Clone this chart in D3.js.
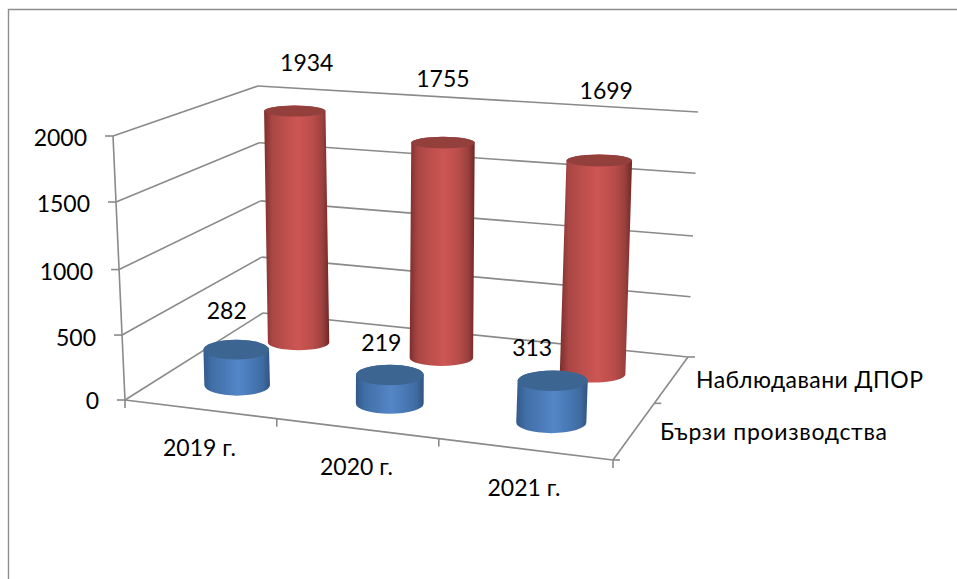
<!DOCTYPE html>
<html><head><meta charset="utf-8">
<script src="https://cdn.jsdelivr.net/npm/d3@7"></script>
<style>
html,body{margin:0;padding:0;background:#fff}
svg{display:block}
text{font-family:Lato,"Noto Sans","Open Sans",sans-serif;font-size:23px;fill:#000}
</style></head><body><div id="chart"></div>
<script>
const categories = ["2019 г.", "2020 г.", "2021 г."];
const seriesNames = ["Бързи производства", "Наблюдавани ДПОР"];
const fastCases = [282, 219, 313];
const observedCases = [1934, 1755, 1699];
const valueTicks = [0, 500, 1000, 1500, 2000];

const W = 957, H = 579;
const svg = d3.select("#chart").append("svg").attr("width", W).attr("height", H);

// 3D box corners on screen
const box = {
  floor: {fl:[125,400], fr:[613,460], bl:[263,313], br:[688,357]},
  ceil:  {fl:[113,136], fr:[627,175], bl:[258,86],  br:[698,112]}
};
const valueT = d3.scaleLinear().domain(valueTicks).range([0, 0.246, 0.494, 0.75, 1]);
const catU = d3.scaleOrdinal(categories, [0.159, 0.483, 0.826]);
const serV = d3.scaleOrdinal(seriesNames, [0.27, 0.75]);
const lerp = (a, b, t) => [a[0] + (b[0]-a[0])*t, a[1] + (b[1]-a[1])*t];
function plane(p, u, v) { return lerp(lerp(p.fl, p.fr, u), lerp(p.bl, p.br, u), v); }
function project(u, v, value) {
  return lerp(plane(box.floor, u, v), plane(box.ceil, u, v), valueT(value));
}
const line = d3.line();
const stroke = "#8a8a8a";
function seg(a, b, w) {
  svg.append("path").attr("d", line([a, b])).attr("fill", "none")
     .attr("stroke", stroke).attr("stroke-width", w || 1.6);
}

// Outer frame: top and left edges only
svg.append("path").attr("d", line([[8.5,579],[8.5,9.5],[957,9.5]]))
   .attr("fill","none").attr("stroke","#8f8f8f").attr("stroke-width",1.4);

// Walls
valueTicks.forEach(v => {
  seg(project(0,0,v), project(0,1,v));
  seg(project(0,1,v), project(1,1,v));
  const a = project(0,0,v);
  seg([a[0]-8, a[1]], a);
});
// Value axis and floor
seg(project(0,0,0), project(0,0,2000));
seg(project(0,0,0), project(1,0,0));
seg(project(1,0,0), project(1,1,0));
[0, 0.311, 0.643, 1].forEach(u => {
  const a = project(u,0,0);
  seg(a, [a[0], a[1]+8]);
});
[0, 0.55, 1].forEach(v => {
  const a = project(1,v,0);
  seg(a, [a[0]+7, a[1]]);
});

// Gradients
const defs = svg.append("defs");
function grad(id, stops) {
  const g = defs.append("linearGradient").attr("id", id).attr("x1",0).attr("x2",1).attr("y1",0).attr("y2",0);
  stops.forEach(s => g.append("stop").attr("offset", s[0]).attr("stop-color", s[1]));
}
grad("gRed", [[0,"#7c2e2c"],[0.12,"#a84644"],[0.3,"#bb4e4b"],[0.52,"#cd5654"],[0.75,"#b94d4a"],[0.9,"#9a403e"],[1,"#6f2725"]]);
grad("gBlue",[[0,"#33598a"],[0.14,"#4170a8"],[0.3,"#4877b3"],[0.52,"#5486c8"],[0.75,"#4777b2"],[0.9,"#3e6a9f"],[1,"#2f5482"]]);

function cylinder(cat, ser, value, fill, topFill) {
  const u = catU(cat), v = serV(ser);
  const rx = (488 - 63*v) * (0.0685 + 0.0072*u);
  const ryAt = y => 5.5 + 0.01*(y-110) + 4.2*(0.75-v);
  const b = project(u, v, 0), t = project(u, v, value);
  const rb = ryAt(b[1]), rt = ryAt(t[1]);
  const d = `M${t[0]-rx},${t[1]}L${b[0]-rx},${b[1]}A${rx},${rb} 0 0 0 ${b[0]+rx},${b[1]}L${t[0]+rx},${t[1]}A${rx},${rt} 0 0 0 ${t[0]-rx},${t[1]}Z`;
  svg.append("path").attr("d", d).attr("fill", `url(#${fill})`);
  svg.append("ellipse").attr("cx",t[0]).attr("cy",t[1]).attr("rx",rx).attr("ry",rt).attr("fill",topFill);
}
categories.forEach((c,i) => cylinder(c, seriesNames[1], observedCases[i], "gRed", "#93403d"));
categories.forEach((c,i) => cylinder(c, seriesNames[0], fastCases[i], "gBlue", "#3d6591"));

// Text helper
function label(str, x, y, anchor) {
  return svg.append("text").attr("x",x).attr("y",y).attr("text-anchor",anchor||"middle").text(str);
}
// Value axis labels
const axisLabelDy = [8.5, 10.5, 10, 9.5, 10];
valueTicks.forEach((v,i) => {
  const a = project(0,0,v);
  label(v, a[0]-26, a[1]+axisLabelDy[i], "end");
});
// Category labels
const catLabelPos = [[199.5,456],[356.5,475],[524,496]];
categories.forEach((c,i) => label(c, catLabelPos[i][0], catLabelPos[i][1]));
// Series labels
label(seriesNames[1], 696, 388, "start").attr("textLength",227);
label(seriesNames[0], 660, 440, "start").attr("textLength",227);
// Data labels: offset from cylinder tops
const obsNudge = [[12,-40],[0,-56],[7,-62]];
const fastNudge = [[-9.5,-31],[-8.5,-24],[-20.5,-25]];
categories.forEach((c,i) => {
  const a = project(catU(c), serV(seriesNames[1]), observedCases[i]);
  label(observedCases[i], a[0]+obsNudge[i][0], a[1]+obsNudge[i][1]);
  const b = project(catU(c), serV(seriesNames[0]), fastCases[i]);
  label(fastCases[i], b[0]+fastNudge[i][0], b[1]+fastNudge[i][1]);
});
</script></body></html>
